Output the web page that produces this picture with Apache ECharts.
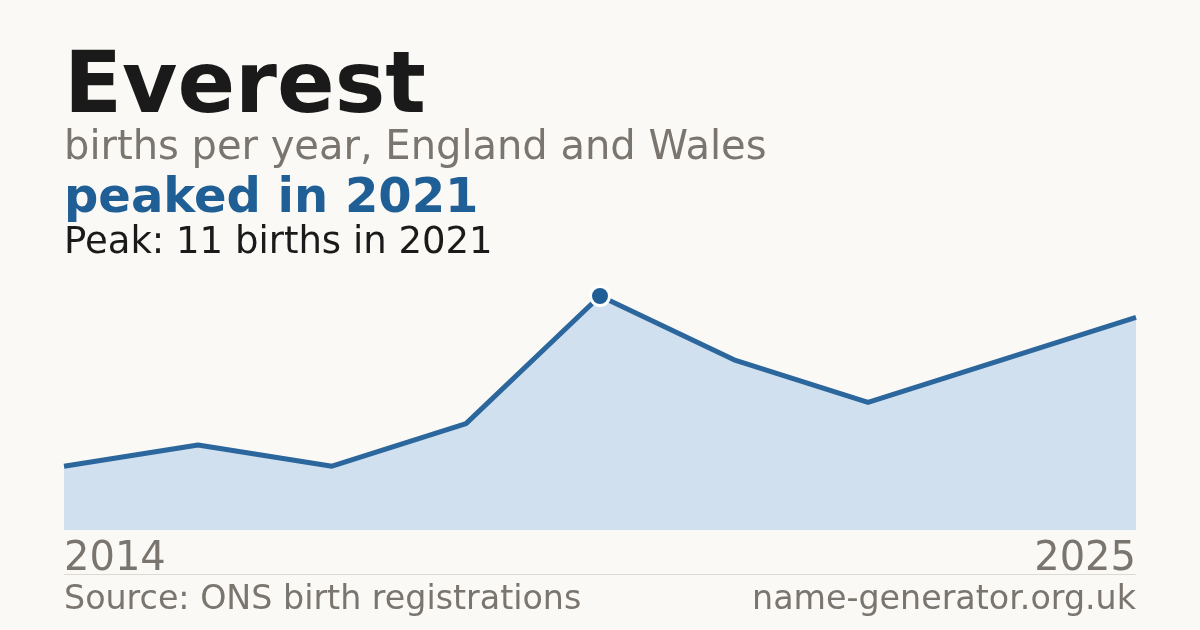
<!DOCTYPE html>
<html>
<head>
<meta charset="utf-8">
<script src="https://cdn.jsdelivr.net/npm/echarts@6/dist/echarts.min.js"></script>
<style>
html,body{margin:0;padding:0;background:#faf9f5;}
#chart{width:1200px;height:630px;}
</style>
</head>
<body>
<div id="chart"></div>
<script>
const years = ['2014','2016','2017','2019','2021','2022','2023','2024','2025'];
const births = [3, 4, 3, 5, 11, 8, 6, 8, 10];
const titleText = 'Everest';
const subtitleText = 'births per year, England and Wales';
const headlineText = 'peaked in 2021';
const peakText = 'Peak: 11 births in 2021';
const sourceText = 'Source: ONS birth registrations';
const siteText = 'name-generator.org.uk';

const peakValue = Math.max(...births);
const peakIndex = births.indexOf(peakValue);
const lastIndex = years.length - 1;
const FONT = '"DejaVu Sans", sans-serif';
const BLUE = '#1f5f96';
const GREY = '#7a756e';

const chart = echarts.init(document.getElementById('chart'));
chart.setOption({
  backgroundColor: '#faf9f5',
  animation: false,
  grid: { left: 64, right: 64, top: 296, bottom: 100, containLabel: false },
  xAxis: {
    type: 'category',
    data: years,
    boundaryGap: false,
    axisLine: { show: false },
    axisTick: { show: false },
    splitLine: { show: false },
    axisLabel: {
      interval: (i) => i === 0 || i === lastIndex,
      color: GREY,
      fontFamily: FONT,
      fontSize: 40,
      margin: 10,
      alignMinLabel: 'left',
      alignMaxLabel: 'right',
      showMinLabel: true,
      showMaxLabel: true
    }
  },
  yAxis: {
    type: 'value',
    min: 0,
    max: peakValue,
    show: false,
    splitLine: { show: false }
  },
  series: [{
    type: 'line',
    data: births,
    clip: false,
    showSymbol: true,
    symbol: (v, p) => p.dataIndex === peakIndex ? 'circle' : 'none',
    symbolSize: 19,
    itemStyle: { color: BLUE, borderColor: '#ffffff', borderWidth: 3 },
    lineStyle: { color: '#2b669d', width: 5 },
    areaStyle: { color: '#d0e0ef', opacity: 1 },
    z: 3
  }],
  graphic: [
    { type: 'text', left: 64, top: 47, style: { text: titleText, font: 'bold 85px ' + FONT, fill: '#1a1a1a' } },
    { type: 'text', left: 64, top: 129, style: { text: subtitleText, font: '40px ' + FONT, fill: GREY } },
    { type: 'text', left: 64, top: 176, style: { text: headlineText, font: 'bold 48px ' + FONT, fill: BLUE } },
    { type: 'text', left: 64, top: 225, style: { text: peakText, font: '37px ' + FONT, fill: '#1a1a1a' } },
    { type: 'rect', shape: { x: 64, y: 574, width: 1072, height: 1 }, style: { fill: '#dddad3' } },
    { type: 'text', left: 64, top: 584, style: { text: sourceText, font: '33.3px ' + FONT, fill: GREY } },
    { type: 'text', right: 64, top: 584, style: { text: siteText, font: '33.3px ' + FONT, fill: GREY } }
  ]
});
</script>
</body>
</html>
